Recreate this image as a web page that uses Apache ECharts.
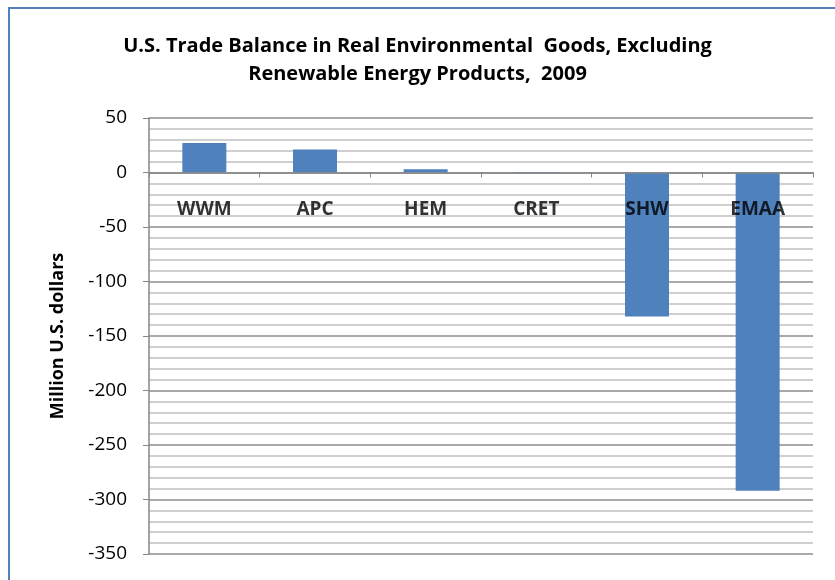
<!DOCTYPE html>
<html>
<head>
<meta charset="utf-8">
<script src="https://cdn.jsdelivr.net/npm/echarts@6/dist/echarts.min.js"></script>
<style>
  html, body { margin: 0; padding: 0; background: #fff; }
  #chart { width: 835px; height: 580px; }
</style>
</head>
<body>
<div id="chart"></div>
<script>
// data
var categories = ['WWM', 'APC', 'HEM', 'CRET', 'SHW', 'EMAA'];
var balance = [27, 21, 3, -1, -132, -292];
var titleLines = ['U.S. Trade Balance in Real Environmental  Goods, Excluding', 'Renewable Energy Products,  2009'];

var font = '"Open Sans", Lato, sans-serif';

var chart = echarts.init(document.getElementById('chart'));

// category names sit just under the zero line, so they are drawn as labels of an invisible series at 0
var nameMarks = categories.map(function (c) { return [c, 0]; });

chart.setOption({
  animation: false,
  graphic: [{
    type: 'rect',
    shape: { x: 9, y: 8, width: 900, height: 700 },
    style: { fill: 'none', stroke: '#4f81bd', lineWidth: 2 }
  }],
  title: {
    text: titleLines.join('\n'),
    left: 'center',
    top: 27,
    padding: [5, 5, 5, 19],
    textStyle: { fontFamily: font, fontSize: 20, fontWeight: 'bold', color: '#000', lineHeight: 28 }
  },
  grid: { left: 149, right: 22, top: 118, bottom: 26, containLabel: false, outerBoundsMode: 'none' },
  xAxis: {
    type: 'category',
    data: categories,
    axisLine: { onZero: true, lineStyle: { color: '#868686', width: 1.5 } },
    axisTick: { show: true, length: 5, lineStyle: { color: '#868686' } },
    axisLabel: { show: false },
    z: 5
  },
  yAxis: {
    type: 'value',
    min: -350,
    max: 50,
    interval: 50,
    name: 'Million U.S. dollars',
    nameLocation: 'middle',
    nameGap: 82,
    nameTextStyle: { fontFamily: font, fontSize: 18, fontWeight: 'bold', color: '#000' },
    axisLine: { show: true, lineStyle: { color: '#868686', width: 1.5 } },
    axisTick: { show: true, length: 6, lineStyle: { color: '#868686' } },
    axisLabel: { fontFamily: font, fontSize: 19, color: '#000', margin: 22 },
    splitLine: { show: true, lineStyle: { color: '#8c8c8c', width: 1.5 } },
    minorTick: { show: false, splitNumber: 5 },
    minorSplitLine: { show: true, lineStyle: { color: '#c0c0c0', width: 1.5 } }
  },
  series: [{
    type: 'bar',
    data: balance,
    barWidth: 44,
    itemStyle: { color: '#4f81bd' },
    z: 3
  }, {
    type: 'scatter',
    data: nameMarks,
    symbolSize: 0,
    silent: true,
    z: 6,
    label: {
      show: true,
      position: 'inside',
      offset: [0, 37],
      formatter: function (p) { return p.value[0]; },
      fontFamily: font, fontSize: 19, fontWeight: 'bold', color: '#000'
    }
  }]
});
</script>
</body>
</html>
